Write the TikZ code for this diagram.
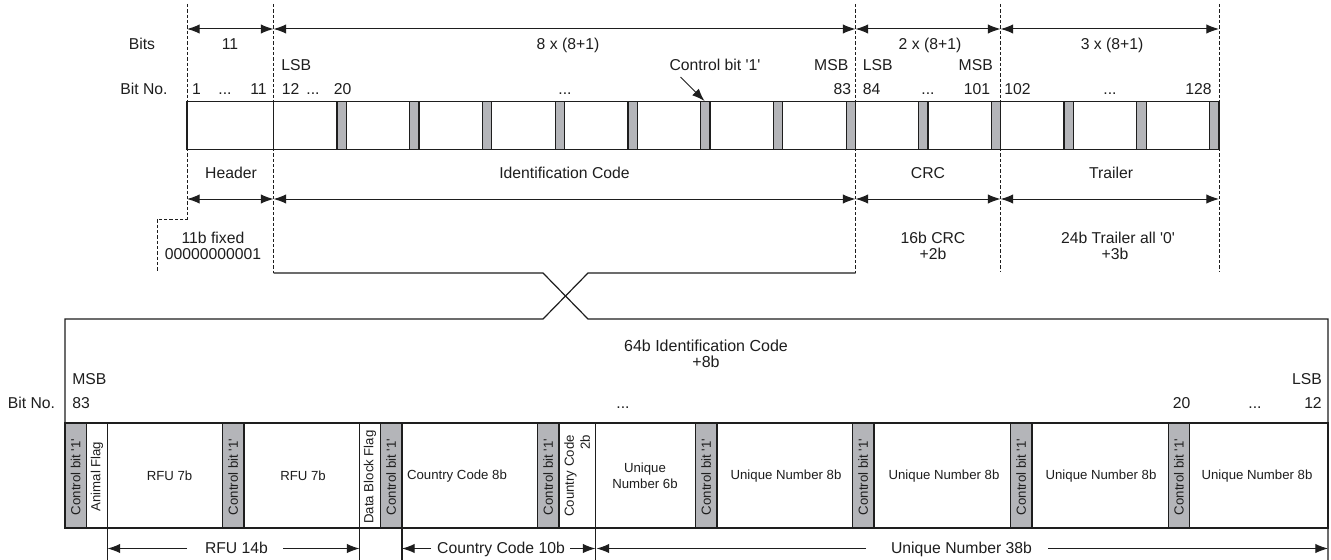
\documentclass[tikz,border=0pt]{standalone}
\usepackage{fontspec}
\setmainfont{Liberation Sans}[Ligatures=TeXOff]
\usetikzlibrary{arrows.meta}
\definecolor{ln}{HTML}{1E1E1E}
\definecolor{cbit}{HTML}{B4B5B9}
\tikzset{
  lbl/.style={font=\fontsize{11.8}{14.5}\selectfont, inner sep=0pt, text=ln},
  ttl/.style={font=\fontsize{12}{14.5}\selectfont, inner sep=0pt, text=ln},
  ctext/.style={font=\fontsize{9.9}{12}\selectfont, inner sep=0pt, align=center, text=ln},
  tip/.tip={Latex[length=9.5pt,width=7pt]},
  dimline/.style={line width=0.75pt, draw=ln, tip-tip},
  onearrow/.style={line width=0.75pt, draw=ln, -tip},
  guide/.style={line width=0.6pt, draw=ln, dash pattern=on 2.4pt off 1.6pt},
  frame/.style={line width=0.9pt, draw=ln},
  gbit/.style={fill=cbit, draw=ln, line width=0.9pt},
  wbit/.style={fill=white, draw=ln, line width=0.9pt},
}
\begin{document}
\begin{tikzpicture}[x=0.75pt,y=-0.75pt]
\useasboundingbox[fill=white] (0,0) rectangle (1331,560);

% ---------- guides ----------
\draw[guide] (187,4) -- (187,219) -- (157,219) -- (157,272);
\draw[guide] (273.5,4) -- (273.5,273);
\draw[guide] (855.5,4) -- (855.5,273);
\draw[guide] (1000.5,4) -- (1000.5,271);
\draw[guide] (1219,4) -- (1219,271);

% ---------- top dimension line ----------
\coordinate (t0) at (187,29);
\coordinate (t1) at (273.5,29);
\coordinate (t2) at (855.5,29);
\coordinate (t3) at (1000.5,29);
\coordinate (t4) at (1219,29);
\draw[dimline] (t0) -- (t1);
\draw[dimline] (t1) -- (t2);
\draw[dimline] (t2) -- (t3);
\draw[dimline] (t3) -- (t4);

\node[lbl, anchor=base] (bits) at (142,50) {Bits};
\node[lbl, anchor=base] (b11) at (230,50) {11};
\node[lbl, anchor=base] (b8) at (568,50) {8 x (8+1)};
\node[lbl, anchor=base] (b2) at (930,50) {2 x (8+1)};
\node[lbl, anchor=base] (b3) at (1112,50) {3 x (8+1)};

\node[lbl, anchor=base west] (lsb1) at (281,70) {LSB};
\node[lbl, anchor=base east] (msb1) at (848.5,70) {MSB};
\node[lbl, anchor=base west] (lsb2) at (862.5,70) {LSB};
\node[lbl, anchor=base east] (msb2) at (993,70) {MSB};
\node[lbl, anchor=base] (cbl) at (715,70) {Control bit '1'};

\node[lbl, anchor=base] (bitno1) at (144,94) {Bit No.};
\node[lbl, anchor=base] (n1) at (196.5,94) {1};
\node[lbl, anchor=base] (d1) at (225,94) {...};
\node[lbl, anchor=base east] (n11) at (267,94) {11};
\node[lbl, anchor=base west] (n12) at (281.5,94) {12};
\node[lbl, anchor=base] (d2) at (313,94) {...};
\node[lbl, anchor=base] (n20) at (342.5,94) {20};
\node[lbl, anchor=base] (d3) at (565,94) {...};
\node[lbl, anchor=base east] (n83) at (851.5,94) {83};
\node[lbl, anchor=base west] (n84) at (862.5,94) {84};
\node[lbl, anchor=base] (d4) at (928,94) {...};
\node[lbl, anchor=base east] (n101) at (990.5,94) {101};
\node[lbl, anchor=base west] (n102) at (1004,94) {102};
\node[lbl, anchor=base] (d5) at (1110,94) {...};
\node[lbl, anchor=base east] (n128) at (1212,94) {128};

% ---------- top bit bar ----------
\foreach \k in {1,...,8}
  \draw[gbit] ({273.5+72.75*\k-9.3},101.5) rectangle ({273.5+72.75*\k},149.5);
\foreach \k in {1,2}
  \draw[gbit] ({855.5+72.5*\k-9.3},101.5) rectangle ({855.5+72.5*\k},149.5);
\foreach \k in {1,2,3}
  \draw[gbit] ({1000.5+72.83*\k-9.3},101.5) rectangle ({1000.5+72.83*\k},149.5);
\draw[frame] (187,101.5) rectangle (1219,149.5);
\draw[frame] (273.5,101.5) -- (273.5,149.5);

\coordinate (cbs) at (680.5,77);
\coordinate (cbt) at (704.5,101);
\draw[onearrow] (cbs) -- (cbt);

% ---------- section names ----------
\node[lbl, anchor=base] (hdr) at (231,178) {Header};
\node[lbl, anchor=base] (idc) at (564.5,178) {Identification Code};
\node[lbl, anchor=base] (crc) at (928,178) {CRC};
\node[lbl, anchor=base] (trl) at (1111,178) {Trailer};

\coordinate (s0) at (187,199);
\coordinate (s1) at (273.5,199);
\coordinate (s2) at (855.5,199);
\coordinate (s3) at (1000.5,199);
\coordinate (s4) at (1219,199);
\draw[dimline] (s0) -- (s1);
\draw[dimline] (s1) -- (s2);
\draw[dimline] (s2) -- (s3);
\draw[dimline] (s3) -- (s4);

\node[lbl, anchor=base] (fx1) at (213,243) {11b fixed};
\node[lbl, anchor=base] (fx2) at (213,259) {00000000001};
\node[lbl, anchor=base] (cr1) at (933,243) {16b CRC};
\node[lbl, anchor=base] (cr2) at (933,259) {+2b};
\node[lbl, anchor=base] (tr1) at (1118,243) {24b Trailer all '0'};
\node[lbl, anchor=base] (tr2) at (1115,259) {+3b};

% ---------- crossing connector + lower frame ----------
\draw[frame] (273.5,273) -- (543,273) -- (588,319) -- (1328,319) -- (1328,560);
\draw[frame] (855.5,273) -- (588,273) -- (543,319) -- (65,319) -- (65,528);

\node[ttl, anchor=base] (t64a) at (706,351) {64b Identification Code};
\node[ttl, anchor=base] (t64b) at (706,367) {+8b};

\node[lbl, anchor=base west] (msb3) at (72,384) {MSB};
\node[lbl, anchor=base west] (n83b) at (72,408) {83};
\node[lbl, anchor=base] (bitno2) at (31.5,408) {Bit No.};
\node[lbl, anchor=base east] (lsb3) at (1322,384) {LSB};
\node[lbl, anchor=base east] (n12b) at (1322,408) {12};
\node[lbl, anchor=base] (n20b) at (1181.5,408) {20};
\node[lbl, anchor=base] (d6) at (1255,408) {...};
\node[lbl, anchor=base] (d7) at (623,408) {...};

% ---------- lower cells ----------
\foreach \a/\b in {65/86.5, 222.5/244, 380.5/402, 537.5/559, 695.5/717, 852.5/874, 1010.5/1032, 1168.5/1189.5}
  \draw[gbit] (\a,423) rectangle (\b,528);
\foreach \a/\b in {86.5/107.5, 107.5/222.5, 244/359.5, 359.5/380.5, 402/537.5, 559/595.5, 595.5/695.5, 717/852.5, 874/1010.5, 1032/1168.5, 1189.5/1328}
  \draw[wbit] (\a,423) rectangle (\b,528);

\foreach \c in {75.75, 233.25, 391.25, 548.25, 706.25, 863.25, 1021.25, 1179}
  \node[ctext, rotate=90] at (\c,477) {Control bit '1'};
\node[ctext, rotate=90] (anf) at (97,476.5) {Animal Flag};
\node[ctext] (rfu1) at (169.5,476) {RFU 7b};
\node[ctext] (rfu2) at (303,476) {RFU 7b};
\node[ctext, rotate=90] (dbf) at (370,477) {Data Block Flag};
\node[ctext] (cc8) at (457,476) {Country Code 8b};
\node[ctext, rotate=90, align=right] (cc2) at (577.25,476) {Country Code\\2b};
\node[ctext] (un6) at (645,476) {Unique\\Number 6b};
\node[ctext] (un8a) at (786,476) {Unique Number 8b};
\node[ctext] (un8b) at (944,476) {Unique Number 8b};
\node[ctext] (un8c) at (1101,476) {Unique Number 8b};
\node[ctext] (un8d) at (1257,476) {Unique Number 8b};

% ---------- lower brackets ----------
\draw[frame] (107.5,528) -- (107.5,560);
\draw[frame] (359.5,528) -- (359.5,560);
\draw[frame] (402,528) -- (402,560);
\draw[frame] (595.5,528) -- (595.5,560);

\coordinate (r0) at (107.5,548.5);
\coordinate (r1) at (359.5,548.5);
\coordinate (r0s) at (187,548.5);
\coordinate (r1s) at (283,548.5);
\node[lbl, anchor=base] (rfu14) at (236.5,553.5) {RFU 14b};
\draw[onearrow] (r0s) -- (r0);
\draw[onearrow] (r1s) -- (r1);

\coordinate (c0) at (402,548.5);
\coordinate (c1) at (595.5,548.5);
\coordinate (c0s) at (431,548.5);
\coordinate (c1s) at (570,548.5);
\node[lbl, anchor=base] (cc10) at (501,553.5) {Country Code 10b};
\draw[onearrow] (c0s) -- (c0);
\draw[onearrow] (c1s) -- (c1);

\coordinate (u0) at (596.5,548.5);
\coordinate (u1) at (1328,548.5);
\coordinate (u0s) at (866,548.5);
\coordinate (u1s) at (1048,548.5);
\node[lbl, anchor=base] (un38) at (961.5,553.5) {Unique Number 38b};
\draw[onearrow] (u0s) -- (u0);
\draw[onearrow] (u1s) -- (u1);
\end{tikzpicture}
\end{document}
